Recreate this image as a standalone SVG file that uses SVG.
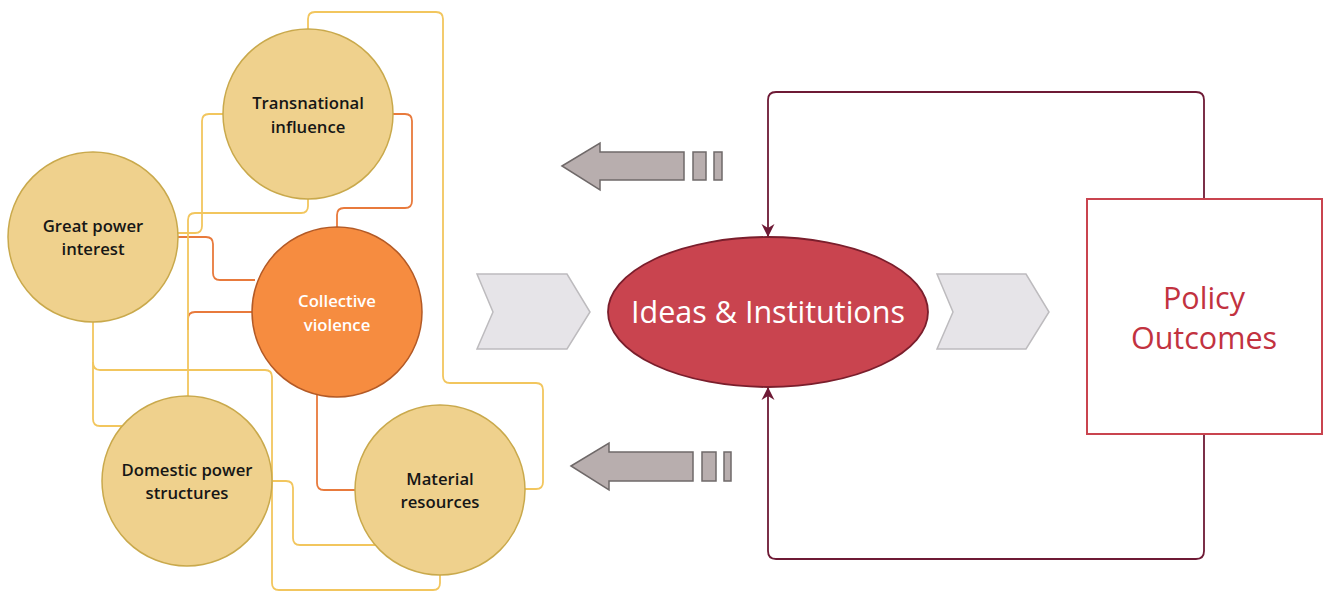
<svg xmlns="http://www.w3.org/2000/svg" width="1325" height="594" viewBox="0 0 1325 594">
  <defs>
    <style>
      .factor { fill: #EFD18D; stroke: #C9A94C; stroke-width: 1.5; }
      .core { fill: #F68C40; stroke: #B35A26; stroke-width: 1.5; }
      .lbl { font-family: "Open Sans", "Noto Sans", "Liberation Sans", sans-serif; font-size: 16.7px; font-weight: 600; text-anchor: middle; fill: #161616; }
      .lbl-w { fill: #FFFFFF; }
      .link-y { fill: none; stroke: #F2C65E; stroke-width: 1.8; stroke-linejoin: round; }
      .link-o { fill: none; stroke: #E87A3C; stroke-width: 1.8; stroke-linejoin: round; }
      .loop { fill: none; stroke: #6E1A35; stroke-width: 1.8; }
      .chev { fill: #E6E4E8; stroke: #BDBBBE; stroke-width: 1.5; }
      .blk { fill: #B8AEAE; stroke: #6F6969; stroke-width: 1.5; }
      .big { font-family: "Open Sans", "Noto Sans", "Liberation Sans", sans-serif; font-size: 30.5px; text-anchor: middle; }
    </style>
    <marker id="tip" markerWidth="14" markerHeight="14" refX="13" refY="7" orient="auto" markerUnits="userSpaceOnUse">
      <path d="M0,0.5 L13,7 L0,13.5 L4,7 Z" fill="#6E1A35"/>
    </marker>
  </defs>

  <rect width="1325" height="594" fill="#FFFFFF"/>

  <!-- connectors -->
  <g id="connectors">
    <!-- orange links to collective violence -->
    <path class="link-o" d="M393,114 H405 Q412,114 412,121 V201 Q412,208 405,208 H344 Q337,208 337,215 V227"/>
    <path class="link-o" d="M177,237 H206 Q213,237 213,244 V273 Q213,280 220,280 H255"/>
    <path class="link-o" d="M253,312 H195 Q188,312 188,319 V330"/>
    <path class="link-o" d="M317,395 V483 Q317,490 324,490 H355"/>
    <!-- yellow links between factors -->
    <path class="link-y" d="M308,30 V19 Q308,12 315,12 H436 Q443,12 443,19 V376 Q443,383 450,383 H536 Q543,383 543,390 V482 Q543,489 536,489 H525"/>
    <path class="link-y" d="M224,114 H209 Q202,114 202,121 V226 Q202,233 195,233 H177"/>
    <path class="link-y" d="M308,198 V206 Q308,213 301,213 H195 Q188,213 188,220 V396"/>
    <path class="link-y" d="M93,322 V419 Q93,426 100,426 H122"/>
    <path class="link-y" d="M93,362 Q93,370 100,370 H265 Q272,370 272,377 V583 Q272,590 279,590 H433 Q440,590 440,583 V575"/>
    <path class="link-y" d="M272,481 H286 Q293,481 293,488 V538 Q293,545 300,545 H376"/>
    <!-- feedback loop from policy outcomes -->
    <path class="loop" marker-end="url(#tip)" d="M1204,199 V100 Q1204,92 1196,92 H776 Q768,92 768,100 V237"/>
    <path class="loop" marker-end="url(#tip)" d="M1204,434 V551 Q1204,559 1196,559 H776 Q768,559 768,551 V387"/>
  </g>

  <!-- factor nodes -->
  <g id="transnational">
    <circle class="factor" cx="308" cy="114" r="85"/>
    <text class="lbl" x="308" y="109">Transnational</text>
    <text class="lbl" x="308" y="133">influence</text>
  </g>
  <g id="great-power">
    <circle class="factor" cx="93" cy="237" r="85"/>
    <text class="lbl" x="93" y="232">Great power</text>
    <text class="lbl" x="93" y="255">interest</text>
  </g>
  <g id="collective-violence">
    <circle class="core" cx="337" cy="312" r="85"/>
    <text class="lbl lbl-w" x="337" y="307">Collective</text>
    <text class="lbl lbl-w" x="337" y="331">violence</text>
  </g>
  <g id="domestic-power">
    <circle class="factor" cx="187" cy="481" r="85"/>
    <text class="lbl" x="187" y="476">Domestic power</text>
    <text class="lbl" x="187" y="499">structures</text>
  </g>
  <g id="material-resources">
    <circle class="factor" cx="440" cy="490" r="85"/>
    <text class="lbl" x="440" y="485">Material</text>
    <text class="lbl" x="440" y="508">resources</text>
  </g>

  <!-- flow chevrons -->
  <g id="chevron-in">
    <polygon class="chev" points="477,274 567,274 590,312 567,349 477,349 493,312"/>
  </g>
  <g id="chevron-out">
    <polygon class="chev" points="937,274 1026,274 1049,312 1026,349 937,349 953,312"/>
  </g>

  <!-- return arrows -->
  <g id="return-top">
    <polygon class="blk" points="562,166 600,143 600,152 684,152 684,180 600,180 600,190"/>
    <rect class="blk" x="693" y="152" width="13" height="28"/>
    <rect class="blk" x="714" y="152" width="8" height="28"/>
  </g>
  <g id="return-bottom">
    <polygon class="blk" points="571,466 609,443 609,452 693,452 693,481 609,481 609,490"/>
    <rect class="blk" x="702" y="452" width="14" height="29"/>
    <rect class="blk" x="724" y="452" width="7" height="29"/>
  </g>

  <!-- central node -->
  <g id="ideas-institutions">
    <ellipse cx="768" cy="312" rx="160" ry="75" fill="#C9444F" stroke="#7A1E2C" stroke-width="1.8"/>
    <text class="big" x="768" y="323" fill="#FFFFFF">Ideas &amp; Institutions</text>
  </g>

  <!-- outcome node -->
  <g id="policy-outcomes">
    <rect x="1087" y="199" width="235" height="235" fill="#FFFFFF" stroke="#C9444F" stroke-width="2"/>
    <text class="big" x="1204" y="309" fill="#C2323F">Policy</text>
    <text class="big" x="1204" y="349" fill="#C2323F">Outcomes</text>
  </g>
</svg>
